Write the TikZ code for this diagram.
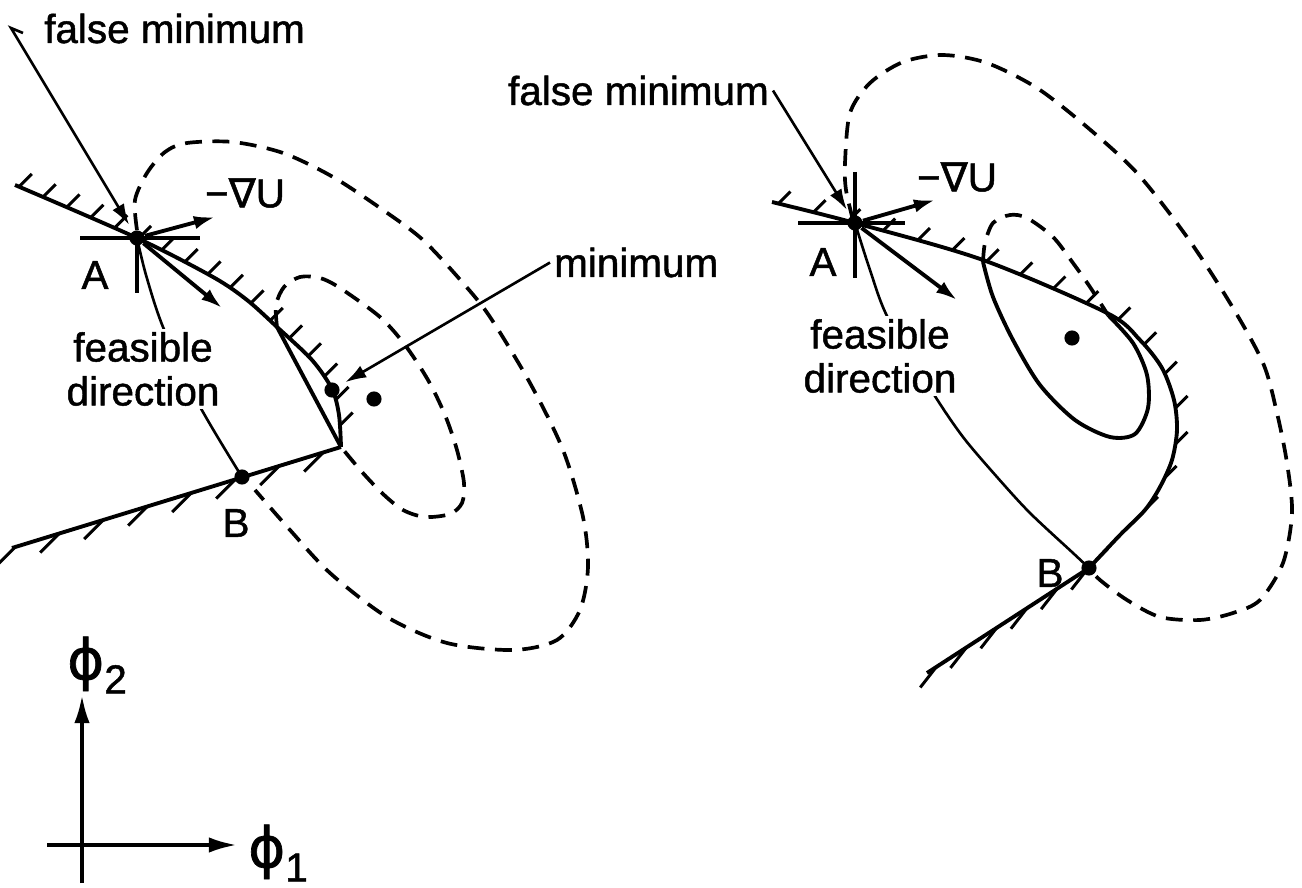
\documentclass[tikz,border=0pt]{standalone}
\usepackage{fontspec}
\setmainfont{Liberation Sans}[FakeBold=1.2]
\newfontfamily\symfnt{DejaVu Sans}[FakeBold=1.2]
\usetikzlibrary{arrows.meta,decorations.markings}

\tikzset{
  dot/.style={circle,fill=black,inner sep=0pt,minimum size=4.3pt},
  lbl/.style={inner sep=1pt,font=\fontsize{11.5}{12.5}\selectfont},
  bound/.style={line width=1.1pt},
  isoline/.style={line width=1.05pt,dash pattern=on 4.8pt off 3pt},
  lead/.style={line width=0.75pt},
  hatch/.style n args={3}{postaction={decorate,decoration={markings,
      mark=between positions 0.01 and 0.99 step #2 with
      {\pgftransformresetnontranslations \draw[line width=0.85pt] (0,0) -- (#1:#3);}}}},
}

\begin{document}
\begin{tikzpicture}[x=0.01cm,y=-0.01cm,>={Latex[length=6pt,width=3.8pt]}]
  \useasboundingbox (0,0) rectangle (1302,888);

  % left picture: corner of two constraints
  \node[dot] (A1) at (137,238) {};
  \node[dot] (B1) at (242,477) {};
  \node[dot] (cmin1) at (332,390) {};
  \node[dot] (umin1) at (374,399) {};
  \coordinate (g1) at (215,217);
  \coordinate (d1) at (222,308);
  \coordinate (hk1) at (11,28);
  \coordinate (hk1a) at (23,33);

  \draw[bound,hatch={-45}{2.6mm}{18}] plot[smooth] coordinates
    {(15,185) (137,238) (213,277) (247,300) (277,327) (312,360) (332,389) (339,415) (341,447)};
  \draw[bound,hatch={135}{4.6mm}{27}] (12,548) -- (341,447);
  \draw[bound] (277,327) -- (341,447);
  \draw[bound] (80,238) -- (200,238);
  \draw[bound] (137,238) -- (137,293);
  \draw[isoline] plot[smooth] coordinates
    {(137,230) (135,200) (147,173) (165,152) (187,143) (233,142) (283,153) (333,177)
     (383,210) (423,240) (463,283) (490,317) (530,383) (563,450) (583,517) (588,567)
     (580,610) (557,640) (513,650) (447,643) (387,617) (330,573) (290,530) (255,490)};
  \draw[isoline] plot[smooth] coordinates
    {(277,327) (276,305) (284,287) (300,277) (320,278) (340,288) (380,317) (405,345)
     (428,380) (445,415) (457,450) (464,483) (462,503) (450,514) (425,517) (403,510)
     (383,494) (362,472) (341,447)};
  \draw[lead] plot[smooth] coordinates
    {(137,238) (146,275) (163,327) (198,403) (242,477)};

  % right picture: curved constraint
  \node[dot] (A2) at (855,223) {};
  \node[dot] (B2) at (1089,568) {};
  \node[dot] (umin2) at (1072,338) {};
  \coordinate (g2) at (935,200);
  \coordinate (d2) at (957,300);

  \draw[bound,hatch={-45}{3.6mm}{17}] plot[smooth] coordinates
    {(772,202) (855,223) (983,260) (1107,313) (1140,340) (1162,368) (1174,400) (1177,430)
     (1172,460) (1160,487) (1145,510) (1120,535) (1089,568)};
  \draw[bound,hatch={128}{3.6mm}{26}] (1089,568) -- (927,673);
  \draw[bound] (798,223) -- (905,223);
  \draw[bound] (855,172) -- (855,278);
  \draw[bound] plot[smooth] coordinates
    {(983,262) (993,297) (1013,340) (1040,385) (1075,420) (1110,437) (1135,434) (1148,408)
     (1147,375) (1133,343) (1108,315)};
  \draw[isoline] plot[smooth] coordinates
    {(983,262) (985,243) (993,223) (1010,215) (1027,218) (1053,237) (1073,263) (1090,287) (1108,315)};
  \draw[isoline] plot[smooth] coordinates
    {(853,220) (846,190) (845,163) (850,113) (870,83) (903,62) (943,55) (987,63) (1037,88)
     (1087,127) (1137,173) (1187,237) (1230,303) (1263,363) (1277,413) (1287,463) (1292,513)
     (1283,563) (1260,600) (1233,613) (1200,620) (1160,617) (1127,600) (1100,580) (1089,568)};
  \draw[lead] plot[smooth] coordinates
    {(855,223) (870,270) (888,318) (933,393) (963,437) (997,477) (1030,513) (1073,553) (1089,568)};

  % labels
  \node[lbl,anchor=base west] (fmlbl1) at (40,43) {false minimum};
  \node[lbl,anchor=base east] (fmlbl2) at (773,105) {false minimum};
  \node[lbl,anchor=base west] (minlbl) at (550,277) {minimum};
  \node[lbl] (gradlbl1) at (245,193) {−{\symfnt ∇}U};
  \node[lbl] (gradlbl2) at (957,177) {−{\symfnt ∇}U};
  \node[lbl] (Albl1) at (95,275) {A};
  \node[lbl] (Blbl1) at (236,523) {B};
  \node[lbl] (Albl2) at (823,262) {A};
  \node[lbl] (Blbl2) at (1050,573) {B};
  \node[lbl,align=center,fill=white] (fd1) at (143,369) {feasible\\direction};
  \node[lbl,align=center,fill=white] (fd2) at (880,356) {feasible\\direction};

  % leaders and arrows
  \draw[lead,->,shorten >=2pt] (hk1a) -- (hk1) -- (A1);
  \draw[lead,->,shorten >=2pt] (fmlbl2.east) -- (A2);
  \draw[lead,->,shorten >=2pt] (minlbl.west) -- (cmin1);
  \draw[bound,->] (A1) -- (g1);
  \draw[bound,->] (A1) -- (d1);
  \draw[bound,->] (A2) -- (g2);
  \draw[bound,->] (A2) -- (d2);

  % axes
  \coordinate (xtail) at (47,845);
  \coordinate (xtip) at (237,845);
  \coordinate (ytail) at (82,883);
  \coordinate (ytip) at (82,695);
  \draw[bound,-{Latex[length=8pt,width=4.4pt]}] (xtail) -- (xtip);
  \draw[bound,-{Latex[length=8pt,width=4.4pt]}] (ytail) -- (ytip);
  \node (phi2) at (97,665) {\fontsize{16}{16}\selectfont{\symfnt ϕ}\raisebox{-4pt}{\fontsize{11.5}{11.5}\selectfont 2}};
  \node (phi1) at (278,853) {\fontsize{16}{16}\selectfont{\symfnt ϕ}\raisebox{-4pt}{\fontsize{11.5}{11.5}\selectfont 1}};
\end{tikzpicture}
\end{document}
